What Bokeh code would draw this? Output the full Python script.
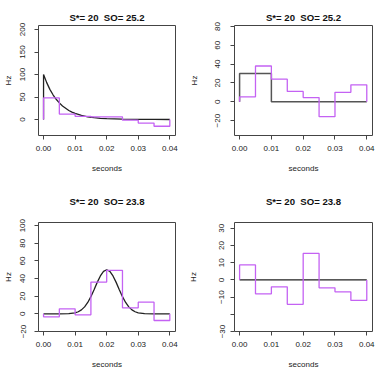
from bokeh.plotting import figure
from bokeh.layouts import gridplot
from bokeh.models import FixedTicker, Range1d, Title
from bokeh.embed import file_html
from bokeh.resources import INLINE

# ---------------- data ----------------
bin_edges = [0.000, 0.005, 0.010, 0.015, 0.020, 0.025, 0.030, 0.035, 0.040]

titles = ["S*= 20\u00a0 SO= 25.2", "S*= 20\u00a0 SO= 25.2",
          "S*= 20\u00a0 SO= 23.8", "S*= 20\u00a0 SO= 23.8"]

# panel 1: estimated rate (step) and exponential kernel (sampled curve)
p1_est = [48, 12, 7, 6, 6, -1.5, -8, -15]
p1_curve_t = [0.000, 0.000, 0.001, 0.002, 0.003, 0.004, 0.005, 0.006, 0.007, 0.008, 0.009,
              0.010, 0.012, 0.014, 0.016, 0.018, 0.020, 0.025, 0.030, 0.035, 0.040]
p1_curve_v = [0, 100, 82, 67, 55, 45, 37, 30, 25, 20, 16.5,
              13.5, 9, 6, 4, 2.7, 1.8, 0.7, 0.3, 0.1, 0]

# panel 2: estimated rate (step) and true step kernel
p2_est = [5.3, 38, 24, 11, 4.5, -15.8, 10, 18]
p2_true = [30, 30, 0, 0, 0, 0, 0, 0]

# panel 3: estimated rate (step) and gaussian-like kernel (sampled curve)
p3_est = [-3.4, 5.7, -1.1, 36, 49.4, 6.8, 13.2, -7.5]
p3_curve_t = [0.000, 0.005, 0.008, 0.010, 0.011, 0.012, 0.013, 0.014, 0.015, 0.016, 0.017,
              0.018, 0.019, 0.020, 0.021, 0.022, 0.023, 0.024, 0.025, 0.026, 0.027,
              0.028, 0.029, 0.030, 0.032, 0.035, 0.040]
p3_curve_v = [0, 0, 0.2, 1.2, 2.4, 4.5, 7.9, 12.9, 19.5, 27.4, 35.7,
              43.0, 48.2, 50, 48.2, 43.0, 35.7, 27.4, 19.5, 12.9, 7.9,
              4.5, 2.4, 1.2, 0.2, 0, 0]

# panel 4: estimated rate (step) and flat zero kernel
p4_est = [8.7, -8.1, -4, -14.2, 15.4, -4.6, -6.9, -11.9]
p4_true = [0, 0, 0, 0, 0, 0, 0, 0]

x_ticks = [0.00, 0.01, 0.02, 0.03, 0.04]
x_tick_labels = ["0.00", "0.01", "0.02", "0.03", "0.04"]
y_ticks = [[0, 50, 100, 150, 200],
           [-20, 0, 20, 40, 60, 80],
           [-20, 0, 20, 40, 60, 80, 100],
           [-30, -20, -10, 0, 10, 20, 30]]
y_ranges = [(-35.6, 209), (-35.8, 81), (-20, 103.6), (-30, 33.4)]
x_range = (-0.0016, 0.0418)

MAG = "#c462f3"
BLK = "#222222"
FONT = "Liberation Sans"


def step_xy(vals):
    xs = [bin_edges[0]]
    ys = [0]
    for i, v in enumerate(vals):
        xs += [bin_edges[i], bin_edges[i + 1]]
        ys += [v, v]
    xs.append(bin_edges[-1])
    ys.append(0)
    return xs, ys


def make_fig(idx, w, h, bl, br, bt, bb, spacer, ylab_standoff, ytick_standoff):
    p = figure(width=w, height=h, output_backend="svg", toolbar_location=None,
               x_range=Range1d(*x_range), y_range=Range1d(*y_ranges[idx]),
               min_border_left=bl, min_border_right=br, min_border_top=bt,
               min_border_bottom=bb, title=None)
    if spacer:
        p.add_layout(Title(text=" ", text_font_size="%dpx" % spacer, standoff=0,
                           text_font=FONT), "above")
    p.add_layout(Title(text=titles[idx], text_font=FONT, text_font_size="9.6px",
                       text_font_style="bold", align="center", standoff=5,
                       text_color="#111111"), "above")
    p.grid.visible = False
    p.outline_line_color = "#444444"
    p.outline_line_width = 1
    p.background_fill_color = "white"
    p.border_fill_color = "white"

    xa = p.xaxis[0]
    xa.ticker = FixedTicker(ticks=x_ticks)
    xa.major_label_overrides = {t: l for t, l in zip(x_ticks, x_tick_labels)}
    xa.axis_label = "seconds"
    ya = p.yaxis[0]
    ya.ticker = FixedTicker(ticks=y_ticks[idx])
    ya.axis_label = "Hz"
    ya.major_label_orientation = "vertical"
    if idx == 3:
        ya.major_label_overrides = {-20: ""}
    for ax in (xa, ya):
        ax.axis_line_color = None
        ax.major_tick_line_color = "#444444"
        ax.major_tick_out = 4
        ax.major_tick_in = 0
        ax.minor_tick_line_color = None
        ax.major_label_text_font = FONT
        ax.major_label_text_font_size = "8px"
        ax.major_label_text_color = "#222222"
        ax.axis_label_text_font = FONT
        ax.axis_label_text_font_size = "8px"
        ax.axis_label_text_font_style = "normal"
        ax.axis_label_text_color = "#222222"
    xa.major_label_standoff = 6
    xa.axis_label_standoff = 10
    ya.major_label_standoff = ytick_standoff
    ya.axis_label_standoff = ylab_standoff
    return p


p1 = make_fig(0, 185, 190, 36, 10, 25, 55, 0, 5, 9)
p2 = make_fig(1, 192, 190, 48, 5, 25, 55, 0, 14, 10)
p3 = make_fig(2, 185, 181, 36, 10, 32, 39, 10, 5, 9)
p4 = make_fig(3, 192, 181, 48, 5, 32, 39, 10, 19, 6)

# panel 1
p1.line(p1_curve_t, p1_curve_v, line_color=BLK, line_width=1.3)
xs, ys = step_xy(p1_est)
p1.line(xs, ys, line_color=MAG, line_width=1.3)

# panel 2
xs, ys = step_xy(p2_true)
p2.line(xs, ys, line_color="#555555", line_width=1.5)
xs, ys = step_xy(p2_est)
p2.line(xs, ys, line_color=MAG, line_width=1.3)

# panel 3
p3.line(p3_curve_t, p3_curve_v, line_color=BLK, line_width=1.3)
xs, ys = step_xy(p3_est)
p3.line(xs, ys, line_color=MAG, line_width=1.3)

# panel 4
xs, ys = step_xy(p4_true)
p4.line(xs, ys, line_color=BLK, line_width=1.2)
xs, ys = step_xy(p4_est)
p4.line(xs, ys, line_color=MAG, line_width=1.3)

grid = gridplot([[p1, p2], [p3, p4]], toolbar_location=None)

open("out.html", "w").write(file_html(grid, INLINE))
